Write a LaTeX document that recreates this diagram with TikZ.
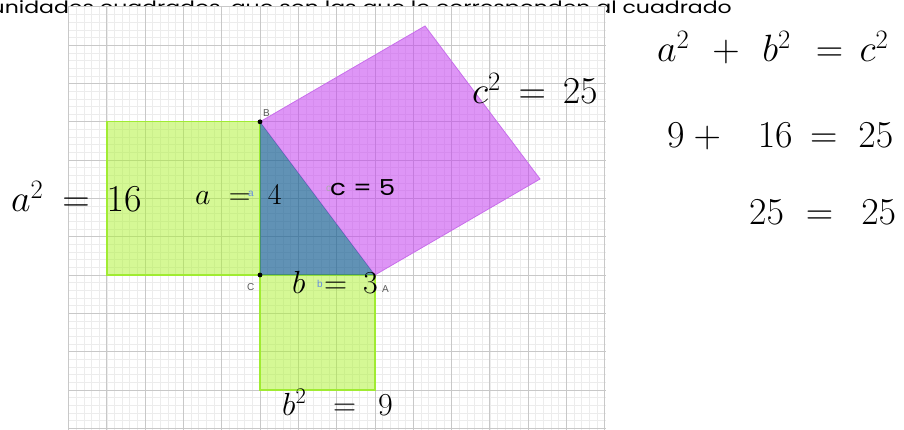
\RequirePackage{fix-cm}
\documentclass[tikz,border=0pt]{standalone}
\usepackage{fontspec}
\newfontfamily\topfont{Poppins}
\newfontfamily\geofont{Liberation Sans}
\definecolor{minorgrid}{RGB}{236,236,236}
\definecolor{majorgrid}{RGB}{200,200,200}
\definecolor{sqgreen}{RGB}{172,242,45}
\definecolor{sqgreenline}{RGB}{160,235,50}
\definecolor{sqpurple}{RGB}{196,62,240}
\definecolor{sqpurpleline}{RGB}{200,110,235}
\definecolor{triblue}{RGB}{30,100,150}
\definecolor{lblgrey}{RGB}{90,90,90}
\definecolor{lblblue}{RGB}{100,140,225}
\definecolor{lbllight}{RGB}{170,170,170}
\tikzset{
  minorline/.style={draw=minorgrid, line width=0.6pt},
  majorline/.style={draw=majorgrid, line width=0.8pt},
  greensq/.style={fill=sqgreen, fill opacity=0.5, draw=sqgreenline, line width=1.4pt},
  purplesq/.style={fill=sqpurple, fill opacity=0.55, draw=sqpurpleline, line width=0.8pt},
  trifill/.style={fill=triblue, fill opacity=0.7},
  ptlabel/.style={anchor=base west, inner sep=0, text=lblgrey, font=\geofont\fontsize{10}{12}\selectfont},
  seglabel/.style={anchor=base west, inner sep=0, text=lblblue, font=\geofont\fontsize{10}{12}\selectfont},
  eqbig/.style={anchor=base west, inner sep=0, font=\fontsize{38}{42}\selectfont},
  eqmid/.style={anchor=base west, inner sep=0, font=\fontsize{32}{36}\selectfont},
  eqsmall/.style={anchor=base west, inner sep=0, font=\fontsize{30}{34}\selectfont},
}
\begin{document}
\begin{tikzpicture}[x=1pt,y=-1pt]
\useasboundingbox (0,0) rectangle (904,430);
% top text (partly hidden by the grid picture)
\node[anchor=base east, inner sep=0, font=\topfont\fontsize{17}{19}\selectfont] (toptext) at (732,14)
  {\resizebox{741pt}{\height}{unidades cuadrados, que son las que le corresponden al cuadrado}};
% grid picture
\fill[white] (68,6) rectangle (606,430);
\foreach \i in {0,...,70} \draw[minorline] ({68.5+\i*7.66},6) -- ({68.5+\i*7.66},430);
\foreach \j in {-20,...,34} \draw[minorline] (68,{275-\j*7.66}) -- (606,{275-\j*7.66});
\foreach \k in {0,...,14} \draw[majorline] ({68.5+\k*38.3},6) -- ({68.5+\k*38.3},430);
\foreach \k in {-4,...,7} \draw[majorline] (68,{275-\k*38.3}) -- (606,{275-\k*38.3});
% points
\coordinate (C) at (260,275);
\coordinate (B) at (260,121.8);
\coordinate (A) at (374.9,275);
\coordinate (T) at (425,26);
\coordinate (R) at (540,179);
\coordinate (Aa) at (106.8,121.8);
\coordinate (Bb) at (374.9,389.9);
% squares and triangle
\path[greensq] (Aa) rectangle (C);
\path[greensq] (C) rectangle (Bb);
\path[purplesq] (B) -- (A) -- (R) -- (T) -- cycle;
\path[trifill] (C) -- (B) -- (A) -- cycle;
\fill (B) circle (2.4);
\fill (C) circle (2.4);
% point and segment labels
\node[ptlabel] (lB) at (263,117) {B};
\node[ptlabel] (lC) at (247,290) {C};
\node[ptlabel] (lA) at (382,292) {A};
\node[seglabel] (la) at (248,197) {a};
\node[seglabel] (lb) at (317,287) {b};
\node[ptlabel, text=lbllight] (lc) at (326,192) {c};
% equations in the picture
\node[eqbig] (a2) at (11,212) {$a^2\hspace{19pt}{=}\hspace{17pt}16$};
\node[eqbig] (c2) at (472,104) {$c^2\hspace{17.6pt}{=}\hspace{17pt}25$};
\node[eqsmall] (aeq) at (195,205) {$a\hspace{18.3pt}{=}\hspace{17.4pt}4$};
\node[eqmid] (beq) at (292,293) {$b\hspace{18.5pt}{=}\hspace{16pt}3$};
\node[eqmid] (b2) at (282,415) {$b^2\hspace{26.8pt}{=}\hspace{22pt}9$};
\node[anchor=base west, inner sep=0, font=\topfont\fontsize{22}{26}\selectfont] (ceq) at (330,196)
  {\resizebox{65pt}{\height}{c = 5}};
% equations on the right
\node[eqbig] (eq1) at (657,62) {$a^2\hspace{23pt}{+}\hspace{22.5pt}b^2\hspace{25pt}{=}\hspace{16.5pt}c^2$};
\node[eqbig] (eq2) at (667,148) {$9\hspace{8.9pt}{+}\hspace{37pt}16\hspace{17.4pt}{=}\hspace{21pt}25$};
\node[eqbig] (eq3) at (749,225) {$25\hspace{22pt}{=}\hspace{28pt}25$};
\end{tikzpicture}
\end{document}
